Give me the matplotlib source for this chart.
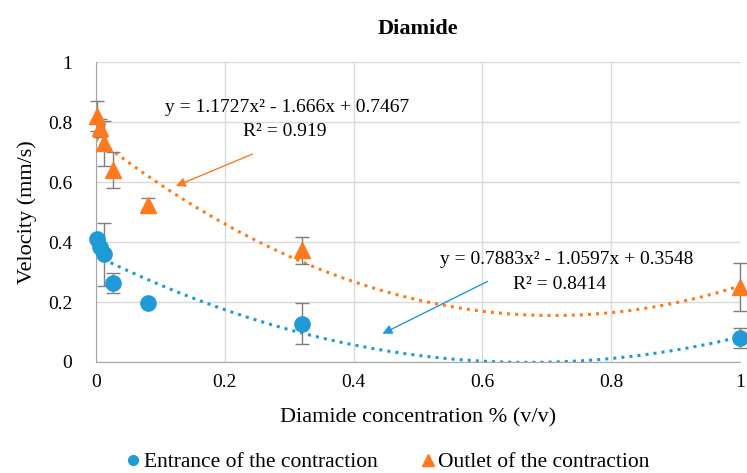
import numpy as np
import matplotlib.pyplot as plt

plt.rcParams['font.family'] = ['Liberation Serif', 'DejaVu Serif']

# data
conc = [0.001, 0.006, 0.0125, 0.026, 0.08, 0.32, 1.0]
entrance = [0.41, 0.385, 0.36, 0.263, 0.198, 0.128, 0.08]
entrance_err = [0.0, 0.0, 0.105, 0.033, 0.0, 0.068, 0.035]
outlet = [0.82, 0.78, 0.73, 0.64, 0.525, 0.372, 0.25]
outlet_err = [0.05, 0.03, 0.075, 0.06, 0.022, 0.045, 0.08]

fit_entrance = [0.7883, -1.0597, 0.3548]
fit_outlet = [1.1727, -1.666, 0.7467]

blue = '#1E9BD7'
orange = '#FF7A1F'

fig = plt.figure(figsize=(7.47, 4.73), dpi=100)
ax = fig.add_axes([0.1285, 0.2347, 0.862, 0.634])

xs = np.linspace(0, 1, 200)
ax.plot(xs, np.polyval(fit_entrance, xs), ':', color=blue, lw=2.2, zorder=2)
ax.plot(xs, np.polyval(fit_outlet, xs), ':', color=orange, lw=2.2, zorder=2)

ax.errorbar(conc, entrance, yerr=entrance_err, fmt='o', color=blue, ms=11,
            ecolor='#7f7f7f', elinewidth=1, capsize=5, capthick=1, zorder=3,
            clip_on=False)
ax.errorbar(conc, outlet, yerr=outlet_err, fmt='^', color=orange, ms=11,
            ecolor='#7f7f7f', elinewidth=1, capsize=5, capthick=1, zorder=3,
            clip_on=False)

ticks = [0, 0.2, 0.4, 0.6, 0.8, 1]
tick_labels = ['0', '0.2', '0.4', '0.6', '0.8', '1']
ax.set_xlim(0, 1)
ax.set_ylim(0, 1)
ax.set_xticks(ticks)
ax.set_xticklabels(tick_labels)
ax.set_yticks(ticks)
ax.set_yticklabels(tick_labels)
ax.tick_params(axis='x', length=0, labelsize=14, pad=9)
ax.tick_params(axis='y', length=0, labelsize=14, pad=17)
ax.grid(color='#d9d9d9', lw=1)
ax.set_axisbelow(True)
for s in ['top', 'right']:
    ax.spines[s].set_visible(False)
for s in ['left', 'bottom']:
    ax.spines[s].set_color('#a6a6a6')

ax.set_xlabel('Diamide concentration % (v/v)', fontsize=16, labelpad=12)
ax.set_ylabel('Velocity (mm/s)', fontsize=16, labelpad=8)
ax.set_title('Diamide', fontsize=16, fontweight='bold', pad=20)

ax.text(0.297, 0.85, 'y = 1.1727x² - 1.666x + 0.7467', fontsize=14, ha='center', va='center')
ax.text(0.293, 0.767, 'R² = 0.919', fontsize=14, ha='center', va='center')
ax.annotate('', xy=(0.12, 0.583), xytext=(0.247, 0.697),
            arrowprops=dict(arrowstyle='-|>', color=orange, lw=1, mutation_scale=14))

ax.text(0.731, 0.343, 'y = 0.7883x² - 1.0597x + 0.3548', fontsize=14, ha='center', va='center')
ax.text(0.72, 0.26, 'R² = 0.8414', fontsize=14, ha='center', va='center')
ax.annotate('', xy=(0.441, 0.09), xytext=(0.612, 0.273),
            arrowprops=dict(arrowstyle='-|>', color=blue, lw=1, mutation_scale=14))

handles = [plt.Line2D([], [], marker='o', ls='', color=blue, ms=7),
           plt.Line2D([], [], marker='^', ls='', color=orange, ms=8)]
fig.legend(handles, ['Entrance of the contraction', 'Outlet of the contraction'],
           loc='center', bbox_to_anchor=(0.517, 0.023), ncol=2, frameon=False,
           fontsize=15.5, handletextpad=0.0, columnspacing=1.8, handlelength=1.0)

fig.savefig('out.png', dpi=100)
